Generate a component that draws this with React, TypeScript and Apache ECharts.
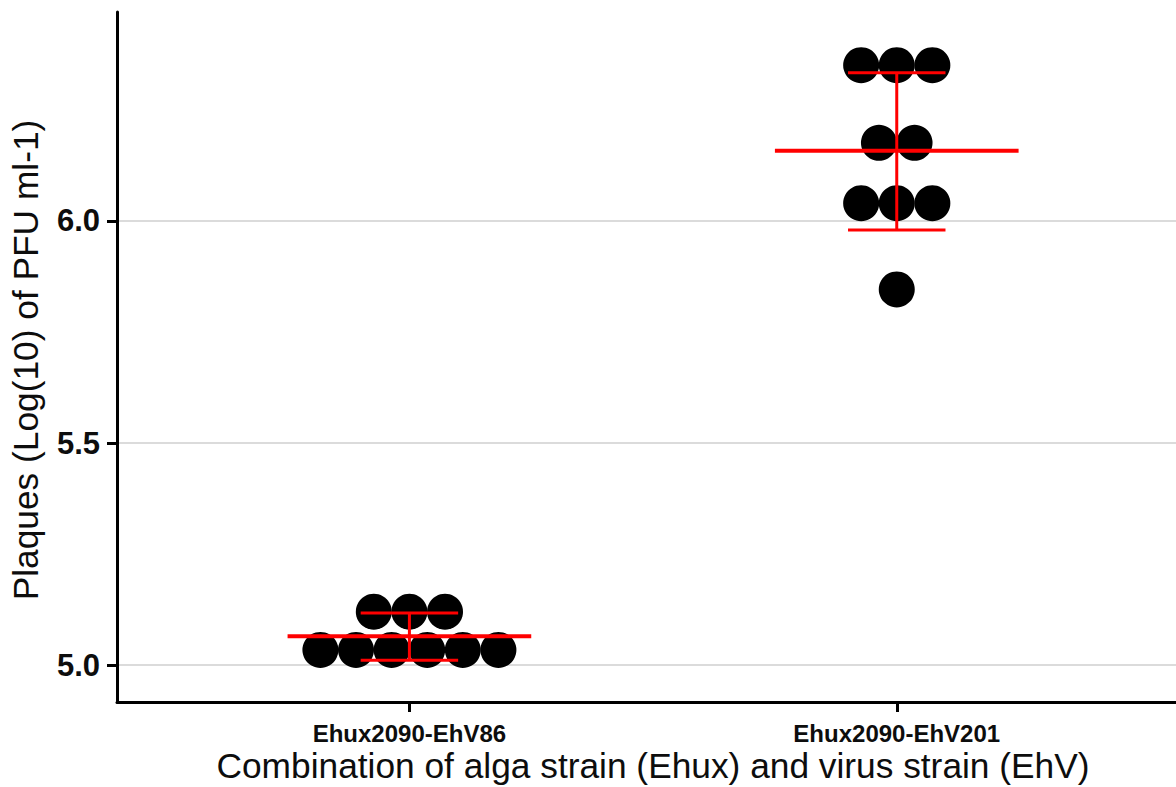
import React, { useEffect, useRef } from "react";
import * as echarts from "echarts";

// ---- data ----
const categories = ["Ehux2090-EhV86", "Ehux2090-EhV201"];
const ehv86Plaques = [5.034, 5.034, 5.034, 5.034, 5.034, 5.034, 5.12, 5.12, 5.12];
const ehv201Plaques = [5.846, 6.04, 6.04, 6.04, 6.176, 6.176, 6.351, 6.351, 6.351];
const groupMeans = [5.065, 6.158];
const groupLow = [5.011, 5.98];
const groupHigh = [5.117, 6.334];
const yTicks = [5.0, 5.5, 6.0];

const Y_MIN = 4.9167;
const Y_MAX = 6.4707;
const X_MIN = 0.4;
const X_MAX = 2.573;

const DOT_R = 18;
const DOT_STEP = 35.6;
const FONT = "'Liberation Sans', Arial, Helvetica, sans-serif";

function stackGroup(values: number[], catPos: number) {
  const counts: Record<string, number> = {};
  values.forEach((v) => {
    counts[String(v)] = (counts[String(v)] || 0) + 1;
  });
  const seen: Record<string, number> = {};
  return values.map((v) => {
    const key = String(v);
    const k = seen[key] || 0;
    seen[key] = k + 1;
    return [catPos, v, k, counts[key]];
  });
}

export default function App() {
  const ref = useRef<HTMLDivElement>(null);

  useEffect(() => {
    if (!ref.current) return;
    const chart = echarts.init(ref.current, null, { renderer: "svg" });

    const dotData = [...stackGroup(ehv86Plaques, 1), ...stackGroup(ehv201Plaques, 2)];
    const barData = categories.map((_, i) => [i + 1, groupMeans[i], groupLow[i], groupHigh[i]]);

    const option: any = {
      animation: false,
      backgroundColor: "#ffffff",
      grid: { left: 117, right: 0, top: 12, bottom: 85, containLabel: false },
      xAxis: {
        type: "value",
        min: X_MIN,
        max: X_MAX,
        axisLine: { show: true, onZero: false, lineStyle: { color: "#000", width: 3 } },
        axisTick: { show: true, customValues: [1, 2], length: 10, lineStyle: { color: "#000", width: 3 } },
        axisLabel: {
          customValues: [1, 2],
          formatter: (v: number) => categories[Math.round(v) - 1] ?? "",
          margin: 19,
          color: "#0d0d0d",
          fontSize: 24,
          fontWeight: "bold",
          fontFamily: FONT,
        },
        splitLine: { show: false },
      },
      yAxis: {
        type: "value",
        min: Y_MIN,
        max: Y_MAX,
        axisLine: { show: true, onZero: false, lineStyle: { color: "#000", width: 3 } },
        axisTick: { show: true, customValues: yTicks, length: 10, lineStyle: { color: "#000", width: 3 } },
        axisLabel: {
          customValues: yTicks,
          formatter: (v: number) => v.toFixed(1),
          margin: 17,
          color: "#0d0d0d",
          fontSize: 31,
          fontWeight: "bold",
          fontFamily: FONT,
        },
        splitLine: { show: true, lineStyle: { color: "#cfcfcf", width: 1.5 } },
      },
      graphic: [
        {
          type: "text",
          x: 653,
          y: 765,
          style: {
            text: "Combination of alga strain (Ehux) and virus strain (EhV)",
            fontSize: 35.3,
            fontFamily: FONT,
            fill: "#0d0d0d",
            textAlign: "center",
            textVerticalAlign: "middle",
          },
        },
        {
          type: "text",
          x: 25,
          y: 360,
          rotation: Math.PI / 2,
          style: {
            text: "Plaques (Log(10) of PFU ml-1)",
            fontSize: 35.3,
            fontFamily: FONT,
            fill: "#0d0d0d",
            textAlign: "center",
            textVerticalAlign: "middle",
          },
        },
      ],
      series: [
        {
          type: "custom",
          name: "plaques",
          data: dotData,
          encode: { x: 0, y: 1 },
          clip: false,
          renderItem: (params: any, api: any) => {
            const c = api.coord([api.value(0), api.value(1)]);
            const k = api.value(2);
            const n = api.value(3);
            return {
              type: "circle",
              shape: { cx: c[0] + (k - (n - 1) / 2) * DOT_STEP, cy: c[1], r: DOT_R },
              style: { fill: "#000" },
            };
          },
          z: 2,
        },
        {
          type: "custom",
          name: "summary",
          data: barData,
          encode: { x: 0, y: [1, 2, 3] },
          clip: false,
          renderItem: (params: any, api: any) => {
            const x = api.value(0);
            const m = api.value(1);
            const lo = api.value(2);
            const hi = api.value(3);
            const mL = api.coord([x - 0.25, m]);
            const mR = api.coord([x + 0.25, m]);
            const pLo = api.coord([x, lo]);
            const pHi = api.coord([x, hi]);
            const cLoL = api.coord([x - 0.1, lo]);
            const cLoR = api.coord([x + 0.1, lo]);
            const cHiL = api.coord([x - 0.1, hi]);
            const cHiR = api.coord([x + 0.1, hi]);
            const red = "#ff0000";
            return {
              type: "group",
              children: [
                { type: "line", shape: { x1: pLo[0], y1: pLo[1], x2: pHi[0], y2: pHi[1] }, style: { stroke: red, lineWidth: 3 } },
                { type: "line", shape: { x1: cLoL[0], y1: cLoL[1], x2: cLoR[0], y2: cLoR[1] }, style: { stroke: red, lineWidth: 3 } },
                { type: "line", shape: { x1: cHiL[0], y1: cHiL[1], x2: cHiR[0], y2: cHiR[1] }, style: { stroke: red, lineWidth: 3 } },
                { type: "line", shape: { x1: mL[0], y1: mL[1], x2: mR[0], y2: mR[1] }, style: { stroke: red, lineWidth: 4 } },
              ],
            };
          },
          z: 3,
        },
      ],
    };

    chart.setOption(option);
    return () => chart.dispose();
  }, []);

  return (
    <div
      ref={ref}
      style={{ position: "fixed", left: 0, top: 0, width: 1176, height: 787, background: "#fff" }}
    />
  );
}
